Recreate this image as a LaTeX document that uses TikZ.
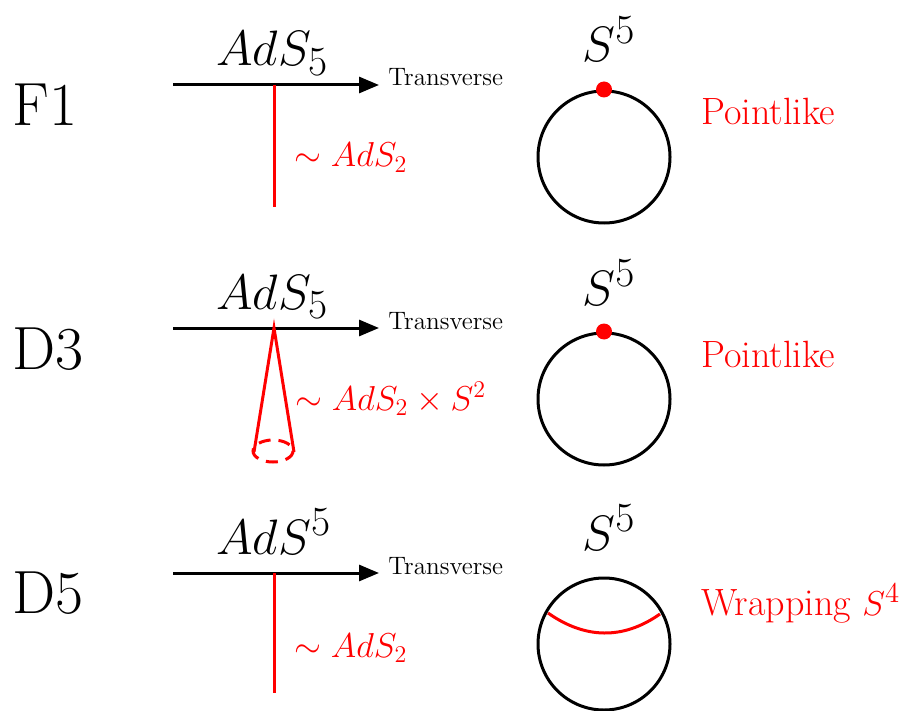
\documentclass[tikz,border=0pt]{standalone}
\usepackage{amsmath,amssymb}
\usetikzlibrary{arrows.meta,positioning}

\newcommand{\bigtxt}{\fontsize{30.5}{34}\selectfont}
\newcommand{\redtxt}{\fontsize{19}{23}\selectfont}
\newcommand{\redmath}{\fontsize{18.4}{22}\selectfont}
\newcommand{\smalltxt}{\fontsize{12.6}{15}\selectfont}

\begin{document}
\begin{tikzpicture}[
  x=0.5pt, y=-0.5pt,
  brane/.style={anchor=base west, inner sep=0pt, font=\bigtxt},
  space/.style={anchor=base west, inner sep=0pt, font=\bigtxt},
  desc/.style={anchor=base west, inner sep=0pt, font=\redtxt, text=red},
  geom/.style={anchor=base west, inner sep=0pt, font=\redmath, text=red},
  trans/.style={anchor=base west, inner sep=0pt, font=\smalltxt},
  sphere/.style={circle, draw=black, line width=1.5pt, minimum size=66pt, inner sep=0pt},
  axis/.style={-{Triangle[length=10pt,width=8pt]}, line width=1.5pt},
  wv/.style={red, line width=1.5pt}
]
\useasboundingbox (0,0) rectangle (904,711);

% row F1
\node[brane] (f1) at (12,126) {F1};
\node[space] (ads1) at (216,66) {$AdS_5$};
\coordinate (a1) at (173,85);
\coordinate (b1) at (379,85);
\node[trans] (t1) at (388,86) {Transverse};
\draw[axis] (a1) -- (b1);
\coordinate (p1) at (274,85);
\coordinate (q1) at (274,207);
\draw[wv] (p1) -- (q1);
\node[geom] (w1) at (294,167) {$\sim AdS_2$};
\node[sphere] (s1) at (604,157) {};
\node[space] (h1) at (582,62) {$S^5$};
\fill[red] (s1.north) circle (4pt);
\node[desc] (l1) at (701,125) {Pointlike};

% row D3
\node[brane] (d3) at (12,369) {D3};
\node[space] (ads2) at (216,309) {$AdS_5$};
\coordinate (a2) at (173,328);
\coordinate (b2) at (379,328);
\node[trans] (t2) at (388,329) {Transverse};
\draw[axis] (a2) -- (b2);
\coordinate (p2) at (274,328);
\coordinate (c2) at (273,451);
\coordinate (cl) at (254,452);
\coordinate (cr) at (294,452);
\draw[wv] (cl) -- (p2) -- (cr);
\draw[wv, dashed, dash pattern=on 6pt off 4pt] (c2) ellipse [x radius=20, y radius=11];
\node[geom] (w2) at (295,410) {$\sim AdS_2\times S^2$};
\node[sphere] (s2) at (604,399) {};
\node[space] (h2) at (582,305) {$S^5$};
\fill[red] (s2.north) circle (4pt);
\node[desc] (l2) at (701,367) {Pointlike};

% row D5
\node[brane] (d5) at (12,613) {D5};
\node[space] (ads3) at (216,554) {$AdS^5$};
\coordinate (a3) at (173,573);
\coordinate (b3) at (379,573);
\node[trans] (t3) at (388,574) {Transverse};
\draw[axis] (a3) -- (b3);
\coordinate (p3) at (274,573);
\coordinate (q3) at (274,693);
\draw[wv] (p3) -- (q3);
\node[geom] (w3) at (294,657) {$\sim AdS_2$};
\node[sphere] (s3) at (604,644) {};
\node[space] (h3) at (582,550) {$S^5$};
\coordinate (e1) at (548,613);
\coordinate (e2) at (660,614);
\draw[wv] (e1) .. controls (585,639) and (623,640) .. (e2);
\node[desc] (l3) at (701,615) {Wrapping $S^4$};
\end{tikzpicture}
\end{document}
